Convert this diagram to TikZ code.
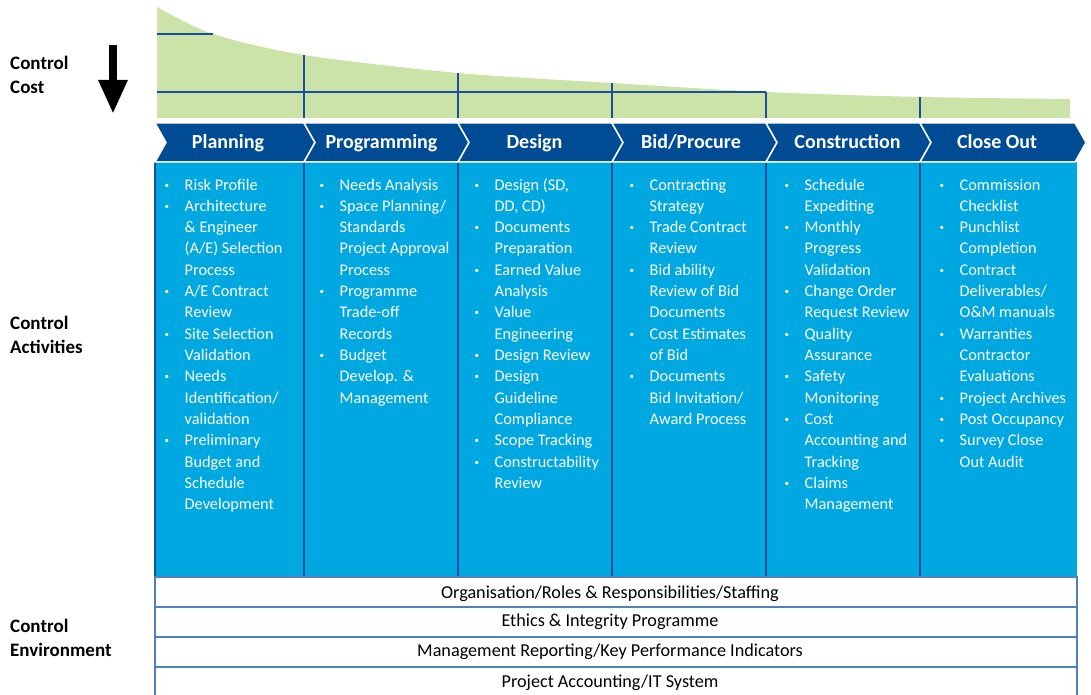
\documentclass[tikz,border=0pt]{standalone}
\usepackage{fontspec}
\setmainfont{Carlito}
\usepackage{tikz}
\usetikzlibrary{arrows.meta}

\definecolor{costgreen}{RGB}{203,227,166}
\definecolor{phaseblue}{RGB}{0,76,148}
\definecolor{bodyblue}{RGB}{0,168,226}
\definecolor{lineblue}{RGB}{28,78,155}
\definecolor{rowline}{RGB}{79,129,189}

\newcommand{\itm}{\makebox[29.5pt][l]{\hspace{9.5pt}\raisebox{2pt}{\fontsize{9}{9}\selectfont\textbullet}}}
\newcommand{\cnt}{\hspace{29.5pt}}

\tikzset{
  chevron/.style={fill=phaseblue, draw=white, line width=1.5pt},
  phase/.style={white, anchor=base, inner sep=0pt, font=\fontsize{20}{24}\selectfont\bfseries},
  side/.style={black, anchor=base west, inner sep=0pt, font=\fontsize{19}{24}\selectfont\bfseries},
  acts/.style={white, anchor=base west, inner sep=0pt, font=\fontsize{16.3}{21.33}\selectfont},
  envrow/.style={draw=rowline, line width=1.2pt},
  envtext/.style={black, inner sep=0pt, font=\fontsize{18.2}{21}\selectfont},
  grid/.style={draw=lineblue, line width=1.3pt},
}

\begin{document}
\begin{tikzpicture}[x=1pt, y=-1pt]
\useasboundingbox (0,0) rectangle (1091,695);

% control cost curve
\fill[costgreen] (157,118) -- plot[smooth] coordinates {(157,7) (213,34) (304,55) (458,73) (612,83) (766,92) (920,97) (1070,99)} -- (1070,118) -- cycle;
\draw[grid] (157,34) -- (213,34);
\draw[grid] (157,92) -- (766,92);
\draw[grid] (304,55) -- (304,118);
\draw[grid] (458,73) -- (458,118);
\draw[grid] (612,83) -- (612,118);
\draw[grid] (766,92) -- (766,118);
\draw[grid] (920,97) -- (920,118);

% activities body
\fill[bodyblue] (155,162) rectangle (1077,577);
\draw[grid] (155,162) -- (155,577) -- (1077,577);
\draw[grid] (304,162) -- (304,577);
\draw[grid] (458,162) -- (458,577);
\draw[grid] (612,162) -- (612,577);
\draw[grid] (766,162) -- (766,577);
\draw[grid] (920,162) -- (920,577);

% phase chevrons
\path[chevron] (155,123) -- (304,123) -- (315,142.5) -- (304,162) -- (155,162) -- (166,142.5) -- cycle;
\path[chevron] (304,123) -- (458,123) -- (469,142.5) -- (458,162) -- (304,162) -- (315,142.5) -- cycle;
\path[chevron] (458,123) -- (612,123) -- (623,142.5) -- (612,162) -- (458,162) -- (469,142.5) -- cycle;
\path[chevron] (612,123) -- (766,123) -- (777,142.5) -- (766,162) -- (612,162) -- (623,142.5) -- cycle;
\path[chevron] (766,123) -- (920,123) -- (931,142.5) -- (920,162) -- (766,162) -- (777,142.5) -- cycle;
\path[chevron] (920,123) -- (1075,123) -- (1086,142.5) -- (1075,162) -- (920,162) -- (931,142.5) -- cycle;

\path (228,148.5) node (plan) [phase] {Planning};
\path (381.5,148.5) node (prog) [phase] {Programming};
\path (534.5,148.5) node (des) [phase] {Design};
\path (691,148.5) node (bid) [phase] {Bid/Procure};
\path (847.5,148.5) node (cons) [phase] {Construction};
\path (997,148.5) node (close) [phase] {Close Out};

% side labels
\path (10,70) node (cost) [side] {\begin{tabular}[t]{@{}l@{}}Control\\Cost\end{tabular}};
\path (10,329) node (activ) [side] {\begin{tabular}[t]{@{}l@{}}Control\\Activities\end{tabular}};
\path (10,632) node (envir) [side] {\begin{tabular}[t]{@{}l@{}}Control\\Environment\end{tabular}};

\coordinate (costtop) at (113,45);
\coordinate (costbot) at (113,114);
\draw[line width=8.5pt, -{Triangle[length=34pt,width=27pt]}] (costtop) -- (costbot);

% activity lists
\path (155,190) node (actplan) [acts] {\begin{tabular}[t]{@{}l@{}}
\itm Risk Profile\\ \itm Architecture\\ \cnt \& Engineer\\ \cnt (A/E) Selection\\ \cnt Process\\
\itm A/E Contract\\ \cnt Review\\ \itm Site Selection\\ \cnt Validation\\ \itm Needs\\
\cnt Identification/\\ \cnt validation\\ \itm Preliminary\\ \cnt Budget and\\ \cnt Schedule\\
\cnt Development\end{tabular}};
\path (310,190) node (actprog) [acts] {\begin{tabular}[t]{@{}l@{}}
\itm Needs Analysis\\ \itm Space Planning/\\ \cnt Standards\\ \cnt Project Approval\\ \cnt Process\\
\itm Programme\\ \cnt Trade-off\\ \cnt Records\\ \itm Budget\\ \cnt Develop. \&\\
\cnt Management\end{tabular}};
\path (465,190) node (actdes) [acts] {\begin{tabular}[t]{@{}l@{}}
\itm Design (SD,\\ \cnt DD, CD)\\ \itm Documents\\ \cnt Preparation\\ \itm Earned Value\\
\cnt Analysis\\ \itm Value\\ \cnt Engineering\\ \itm Design Review\\ \itm Design\\
\cnt Guideline\\ \cnt Compliance\\ \itm Scope Tracking\\ \itm Constructability\\ \cnt Review\end{tabular}};
\path (620,190) node (actbid) [acts] {\begin{tabular}[t]{@{}l@{}}
\itm Contracting\\ \cnt Strategy\\ \itm Trade Contract\\ \cnt Review\\ \itm Bid ability\\
\cnt Review of Bid\\ \cnt Documents\\ \itm Cost Estimates\\ \cnt of Bid\\ \itm Documents\\
\cnt Bid Invitation/\\ \cnt Award Process\end{tabular}};
\path (775,190) node (actcons) [acts] {\begin{tabular}[t]{@{}l@{}}
\itm Schedule\\ \cnt Expediting\\ \itm Monthly\\ \cnt Progress\\ \cnt Validation\\
\itm Change Order\\ \cnt Request Review\\ \itm Quality\\ \cnt Assurance\\ \itm Safety\\
\cnt Monitoring\\ \itm Cost\\ \cnt Accounting and\\ \cnt Tracking\\ \itm Claims\\
\cnt Management\end{tabular}};
\path (930,190) node (actclose) [acts] {\begin{tabular}[t]{@{}l@{}}
\itm Commission\\ \cnt Checklist\\ \itm Punchlist\\ \cnt Completion\\ \itm Contract\\
\cnt Deliverables/\\ \cnt O\&M manuals\\ \itm Warranties\\ \cnt Contractor\\ \cnt Evaluations\\
\itm Project Archives\\ \itm Post Occupancy\\ \itm Survey Close\\ \cnt Out Audit\end{tabular}};

% control environment rows
\draw[envrow] (155,577) rectangle (1077,607);
\draw[envrow] (155,607) rectangle (1077,637);
\draw[envrow] (155,637) rectangle (1077,667);
\draw[envrow] (155,667) rectangle (1077,698);
\path (610,594) node (roles) [envtext] {Organisation/Roles \& Responsibilities/Staffing};
\path (610,622) node (ethics) [envtext] {Ethics \& Integrity Programme};
\path (610,652) node (report) [envtext] {Management Reporting/Key Performance Indicators};
\path (610,683) node (account) [envtext] {Project Accounting/IT System};
\end{tikzpicture}
\end{document}
